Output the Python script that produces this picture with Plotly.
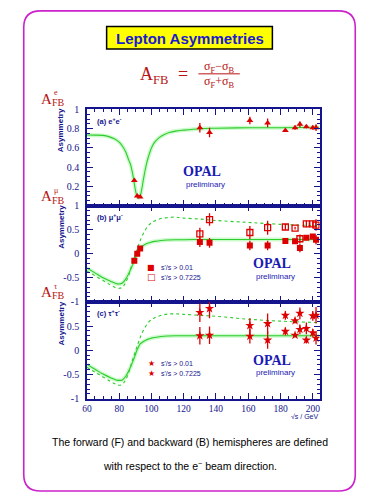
import plotly.graph_objects as go

W, H = 375, 500
def X(px): return px / W
def Y(py): return 1 - py / H

BLUE = "#14148c"
RED = "#dd0000"
DRED = "#b81414"
GREEN = "#2ecc2e"
HALO = "rgba(160,245,160,0.55)"

# ---------------- data ----------------
lep1_e = [89.4, 91.2, 93.0]
lep2_e = [130, 136, 161, 172, 183, 189, 192, 196, 200, 202]

# e+e-
ee_x = lep1_e + lep2_e
ee_y = [0.26, 0.10, 0.09, 0.81, 0.76, 0.885, 0.86, 0.78, 0.81, 0.845, 0.82, 0.81, 0.81]
ee_err = [0.015, 0.006, 0.008, 0.05, 0.05, 0.04, 0.045, 0.015, 0.02, 0.03, 0.015, 0.02, 0.035]

ee_curve_x = [60, 65, 70, 74, 77, 80, 82, 84, 86, 87, 88, 89, 90, 91, 92, 93, 94, 95, 96, 97, 98,
              100, 102, 105, 108, 111, 115, 120, 130, 140, 160, 180, 204]
ee_curve_y = [0.735, 0.733, 0.73, 0.715, 0.695, 0.66, 0.62, 0.56, 0.47, 0.43, 0.36, 0.27, 0.17,
              0.10, 0.08, 0.10, 0.17, 0.27, 0.36, 0.44, 0.50, 0.60, 0.66, 0.71, 0.74, 0.76, 0.775,
              0.785, 0.80, 0.805, 0.81, 0.81, 0.815]

# mu+mu-
mu_lo_x = lep1_e + lep2_e
mu_lo_y = [-0.145, 0.0, 0.105, 0.24, 0.225, 0.17, 0.17, 0.265, 0.26, 0.12, 0.33, 0.355, 0.29]
mu_lo_err = [0.012, 0.006, 0.01, 0.10, 0.10, 0.10, 0.10, 0.05, 0.04, 0.09, 0.05, 0.04, 0.10]
mu_hi_x = lep2_e
mu_hi_y = [0.41, 0.71, 0.44, 0.54, 0.555, 0.53, 0.31, 0.62, 0.62, 0.595]
mu_hi_err = [0.13, 0.13, 0.135, 0.145, 0.06, 0.03, 0.09, 0.07, 0.07, 0.12]

curve_x = [60, 65, 70, 75, 78, 80, 82, 84, 86, 88, 89.5, 91, 92, 93, 95, 98, 100, 102, 106,
           110, 115, 120, 130, 140, 160, 180, 204]
mu_curve_lo = [-0.30, -0.40, -0.50, -0.58, -0.62, -0.63, -0.61, -0.53, -0.41, -0.26, -0.14,
               0.0, 0.07, 0.12, 0.17, 0.22, 0.24, 0.255, 0.275, 0.285, 0.29, 0.29, 0.295,
               0.295, 0.295, 0.295, 0.295]
mu_curve_hi = [-0.36, -0.46, -0.56, -0.66, -0.71, -0.72, -0.70, -0.60, -0.44, -0.22, -0.07,
               0.08, 0.18, 0.27, 0.42, 0.58, 0.64, 0.68, 0.73, 0.75, 0.76, 0.74, 0.72,
               0.69, 0.65, 0.61, 0.58]

# tau+tau-
tau_x = lep2_e
tau_lo_y = [0.30, 0.31, 0.29, 0.21, 0.39, 0.31, 0.43, 0.21, 0.36, 0.25]
tau_lo_err = [0.18, 0.18, 0.15, 0.18, 0.08, 0.04, 0.10, 0.07, 0.08, 0.13]
tau_hi_y = [0.78, 0.86, 0.51, 0.55, 0.72, 0.61, 0.76, 0.45, 0.71, 0.72]
tau_hi_err = [0.20, 0.20, 0.15, 0.21, 0.09, 0.06, 0.12, 0.12, 0.10, 0.17]

tau_curve_lo = [-0.29, -0.39, -0.49, -0.57, -0.61, -0.62, -0.61, -0.54, -0.42, -0.27, -0.14,
                0.0, 0.07, 0.13, 0.18, 0.23, 0.25, 0.265, 0.285, 0.295, 0.30, 0.30, 0.30,
                0.30, 0.30, 0.30, 0.30]
tau_curve_hi = [-0.35, -0.45, -0.55, -0.65, -0.70, -0.72, -0.70, -0.61, -0.45, -0.23, -0.08,
                0.07, 0.17, 0.26, 0.41, 0.57, 0.63, 0.67, 0.72, 0.745, 0.75, 0.74, 0.72,
                0.70, 0.64, 0.60, 0.57]

x_ticks = [60, 80, 100, 120, 140, 160, 180, 200]

fig = go.Figure()

def curve(x, y, xa, ya, dotted=False):
    if not dotted:
        fig.add_trace(go.Scatter(x=x, y=y, xaxis=xa, yaxis=ya, mode="lines",
                                 line=dict(color=HALO, width=4, shape="spline"),
                                 hoverinfo="skip", showlegend=False))
    fig.add_trace(go.Scatter(x=x, y=y, xaxis=xa, yaxis=ya, mode="lines",
                             line=dict(color=GREEN, width=1.1, shape="spline",
                                       dash="dot" if dotted else "solid"),
                             hoverinfo="skip", showlegend=False))

def points(x, y, err, xa, ya, symbol, size, lw=0):
    fig.add_trace(go.Scatter(
        x=x, y=y, xaxis=xa, yaxis=ya, mode="markers",
        marker=dict(symbol=symbol, size=size, color=RED,
                    line=dict(color=RED, width=lw)),
        error_y=dict(type="data", array=err, color=RED, thickness=1.3, width=0),
        showlegend=False))

# panel a
curve(ee_curve_x, ee_curve_y, "x", "y")
points(ee_x, ee_y, ee_err, "x", "y", "triangle-up", 6)
# panel b
curve(curve_x, mu_curve_lo, "x2", "y2")
curve(curve_x, mu_curve_hi, "x2", "y2", dotted=True)
points(mu_lo_x, mu_lo_y, mu_lo_err, "x2", "y2", "square", 6)
points(mu_hi_x, mu_hi_y, mu_hi_err, "x2", "y2", "square-open", 6, 1.3)
# panel c
curve(curve_x, tau_curve_lo, "x3", "y3")
curve(curve_x, tau_curve_hi, "x3", "y3", dotted=True)
points(tau_x, tau_lo_y, tau_lo_err, "x3", "y3", "star", 7)
points(tau_x, tau_hi_y, tau_hi_err, "x3", "y3", "star", 7)

tickfont = dict(family="Liberation Serif", size=10, color=BLUE)
common = dict(showline=True, linecolor=BLUE, linewidth=1.5, mirror="ticks",
              ticks="inside", ticklen=6, tickwidth=1.2, tickcolor=BLUE,
              showgrid=False, zeroline=False, tickfont=tickfont, fixedrange=True)
xdom = [X(83), X(319)]
xcommon = dict(common, range=[60, 204.3], tickvals=x_ticks, domain=xdom,
               minor=dict(dtick=5, tick0=60, ticklen=3, ticks="inside", tickcolor=BLUE))

def ycfg(dom, rng, vals, texts, mdt):
    return dict(common, range=rng, tickvals=vals, ticktext=texts, domain=dom,
                ticklabelstandoff=4,
                minor=dict(dtick=mdt, ticklen=3, ticks="inside", tickcolor=BLUE))

fig.update_layout(
    width=W, height=H, margin=dict(l=0, r=0, t=0, b=0),
    paper_bgcolor="white", plot_bgcolor="white", showlegend=False,
    xaxis=dict(xcommon, anchor="y", showticklabels=False),
    xaxis2=dict(xcommon, anchor="y2", showticklabels=False),
    xaxis3=dict(xcommon, anchor="y3", showticklabels=True,
                ticktext=[str(v) for v in x_ticks], ticklabelstandoff=0,
                tickfont=dict(family="Liberation Serif", size=9.5, color=BLUE)),
    yaxis=ycfg([Y(204.5), Y(106)], [0, 1], [0.2, 0.4, 0.6, 0.8, 1],
               ["0.2", "0.4", "0.6", "0.8", "1"], 0.05),
    yaxis2=ycfg([Y(303), Y(204.5)], [-1, 1], [-1, -0.5, 0, 0.5, 1],
                ["-1", "-0.5", "0", "0.5", "1"], 0.1),
    yaxis3=ycfg([Y(402.5), Y(303)], [-1, 1], [-1, -0.5, 0, 0.5],
                ["-1", "-0.5", "0", "0.5"], 0.1),
)
fig.update_layout(yaxis=dict(anchor="x"), yaxis2=dict(anchor="x2"), yaxis3=dict(anchor="x3"))

# ---- decorations ----
def rounded(x0, y0, x1, y1, r):
    pts = lambda px, py: f"{X(px):.5f},{Y(py):.5f}"
    return (f"M {pts(x0+r, y0)} L {pts(x1-r, y0)} Q {pts(x1, y0)} {pts(x1, y0+r)} "
            f"L {pts(x1, y1-r)} Q {pts(x1, y1)} {pts(x1-r, y1)} "
            f"L {pts(x0+r, y1)} Q {pts(x0, y1)} {pts(x0, y1-r)} "
            f"L {pts(x0, y0+r)} Q {pts(x0, y0)} {pts(x0+r, y0)} Z")

shapes = [
    dict(type="path", xref="paper", yref="paper", path=rounded(19, 5, 355, 497, 17),
         line=dict(color="#cc22cc", width=1.6)),
    dict(type="rect", xref="paper", yref="paper", x0=X(103), x1=X(271), y0=Y(44), y1=Y(21),
         fillcolor="#ffff00", line=dict(color="black", width=1.5)),
    dict(type="line", xref="paper", yref="paper", x0=X(196), x1=X(238), y0=Y(69.5), y1=Y(69.5),
         line=dict(color=DRED, width=1)),
]
fig.update_layout(shapes=shapes)

anns = []
def ann(text, px, py, size, color, family="Liberation Sans", xanchor="center", angle=0,
        yanchor="middle"):
    anns.append(dict(text=text, x=X(px), y=Y(py), xref="paper", yref="paper",
                     showarrow=False, xanchor=xanchor, yanchor=yanchor, textangle=angle,
                     font=dict(size=size, color=color, family=family)))

ann("<b>Lepton Asymmetries</b>", 187.5, 33, 15, "#1a1ad0")
# formula
ann("A<sub>FB</sub>", 151, 71, 18, DRED, "Liberation Serif")
ann("=", 180, 70, 18, DRED, "Liberation Serif")
ann("σ<sub>F</sub>−σ<sub>B</sub>", 217, 62, 12, DRED, "Liberation Serif")
ann("σ<sub>F</sub>+σ<sub>B</sub>", 217, 78, 12, DRED, "Liberation Serif")
# panel asymmetry labels
for cy, sup in [(95, "e"), (195, "μ"), (293, "τ")]:
    ann("A", 42, cy, 15, DRED, "Liberation Serif")
    ann("FB", 54, cy + 4, 10, DRED, "Liberation Serif")
    ann(sup, 52, cy - 6, 8, DRED, "Liberation Serif")
# y titles
for cy in [127, 226, 325]:
    ann("<b>Asymmetry</b>", 57, cy, 8, BLUE, angle=-90)
# panel tags
ann("<b>(a) e<sup>+</sup>e<sup>-</sup></b>", 91, 118, 7.5, BLUE, xanchor="left")
ann("<b>(b) μ<sup>+</sup>μ<sup>-</sup></b>", 91, 216, 7.5, BLUE, xanchor="left")
ann("<b>(c) τ<sup>+</sup>τ<sup>-</sup></b>", 91, 315, 7.5, BLUE, xanchor="left")
# OPAL preliminary
for (ox, oy) in [(200, 170), (271, 264), (271, 363)]:
    ann("<b>OPAL</b>", ox, oy, 14, "#1a1ab4", "Liberation Serif")
    ann("preliminary", ox + 3, oy + 13, 8, "#1a1ab4")
# legends (text glyphs)
ann("■", 148, 268, 8, RED, "DejaVu Sans")
ann("□", 148, 278, 9, RED, "DejaVu Sans")
ann("s'/s > 0.01", 156, 268, 7, BLUE, xanchor="left")
ann("s'/s > 0.7225", 156, 278, 7, BLUE, xanchor="left")
ann("★", 148, 366, 8, RED, "DejaVu Sans")
ann("★", 148, 377, 8, RED, "DejaVu Sans")
ann("s'/s > 0.01", 156, 366, 7, BLUE, xanchor="left")
ann("s'/s > 0.7225", 156, 377, 7, BLUE, xanchor="left")
# x title
ann("√s / GeV", 304, 421, 7, BLUE)
# footer
ann("The forward (F) and backward (B) hemispheres are defined", 187, 447, 10.5, "black")
ann("with respect to the e<sup>−</sup> beam direction.", 187, 471, 10.5, "black")

fig.update_layout(annotations=anns)
fig.write_html("out.html", config={"displayModeBar": False},
               post_script="document.body.style.margin='0';document.body.style.padding='0';")
